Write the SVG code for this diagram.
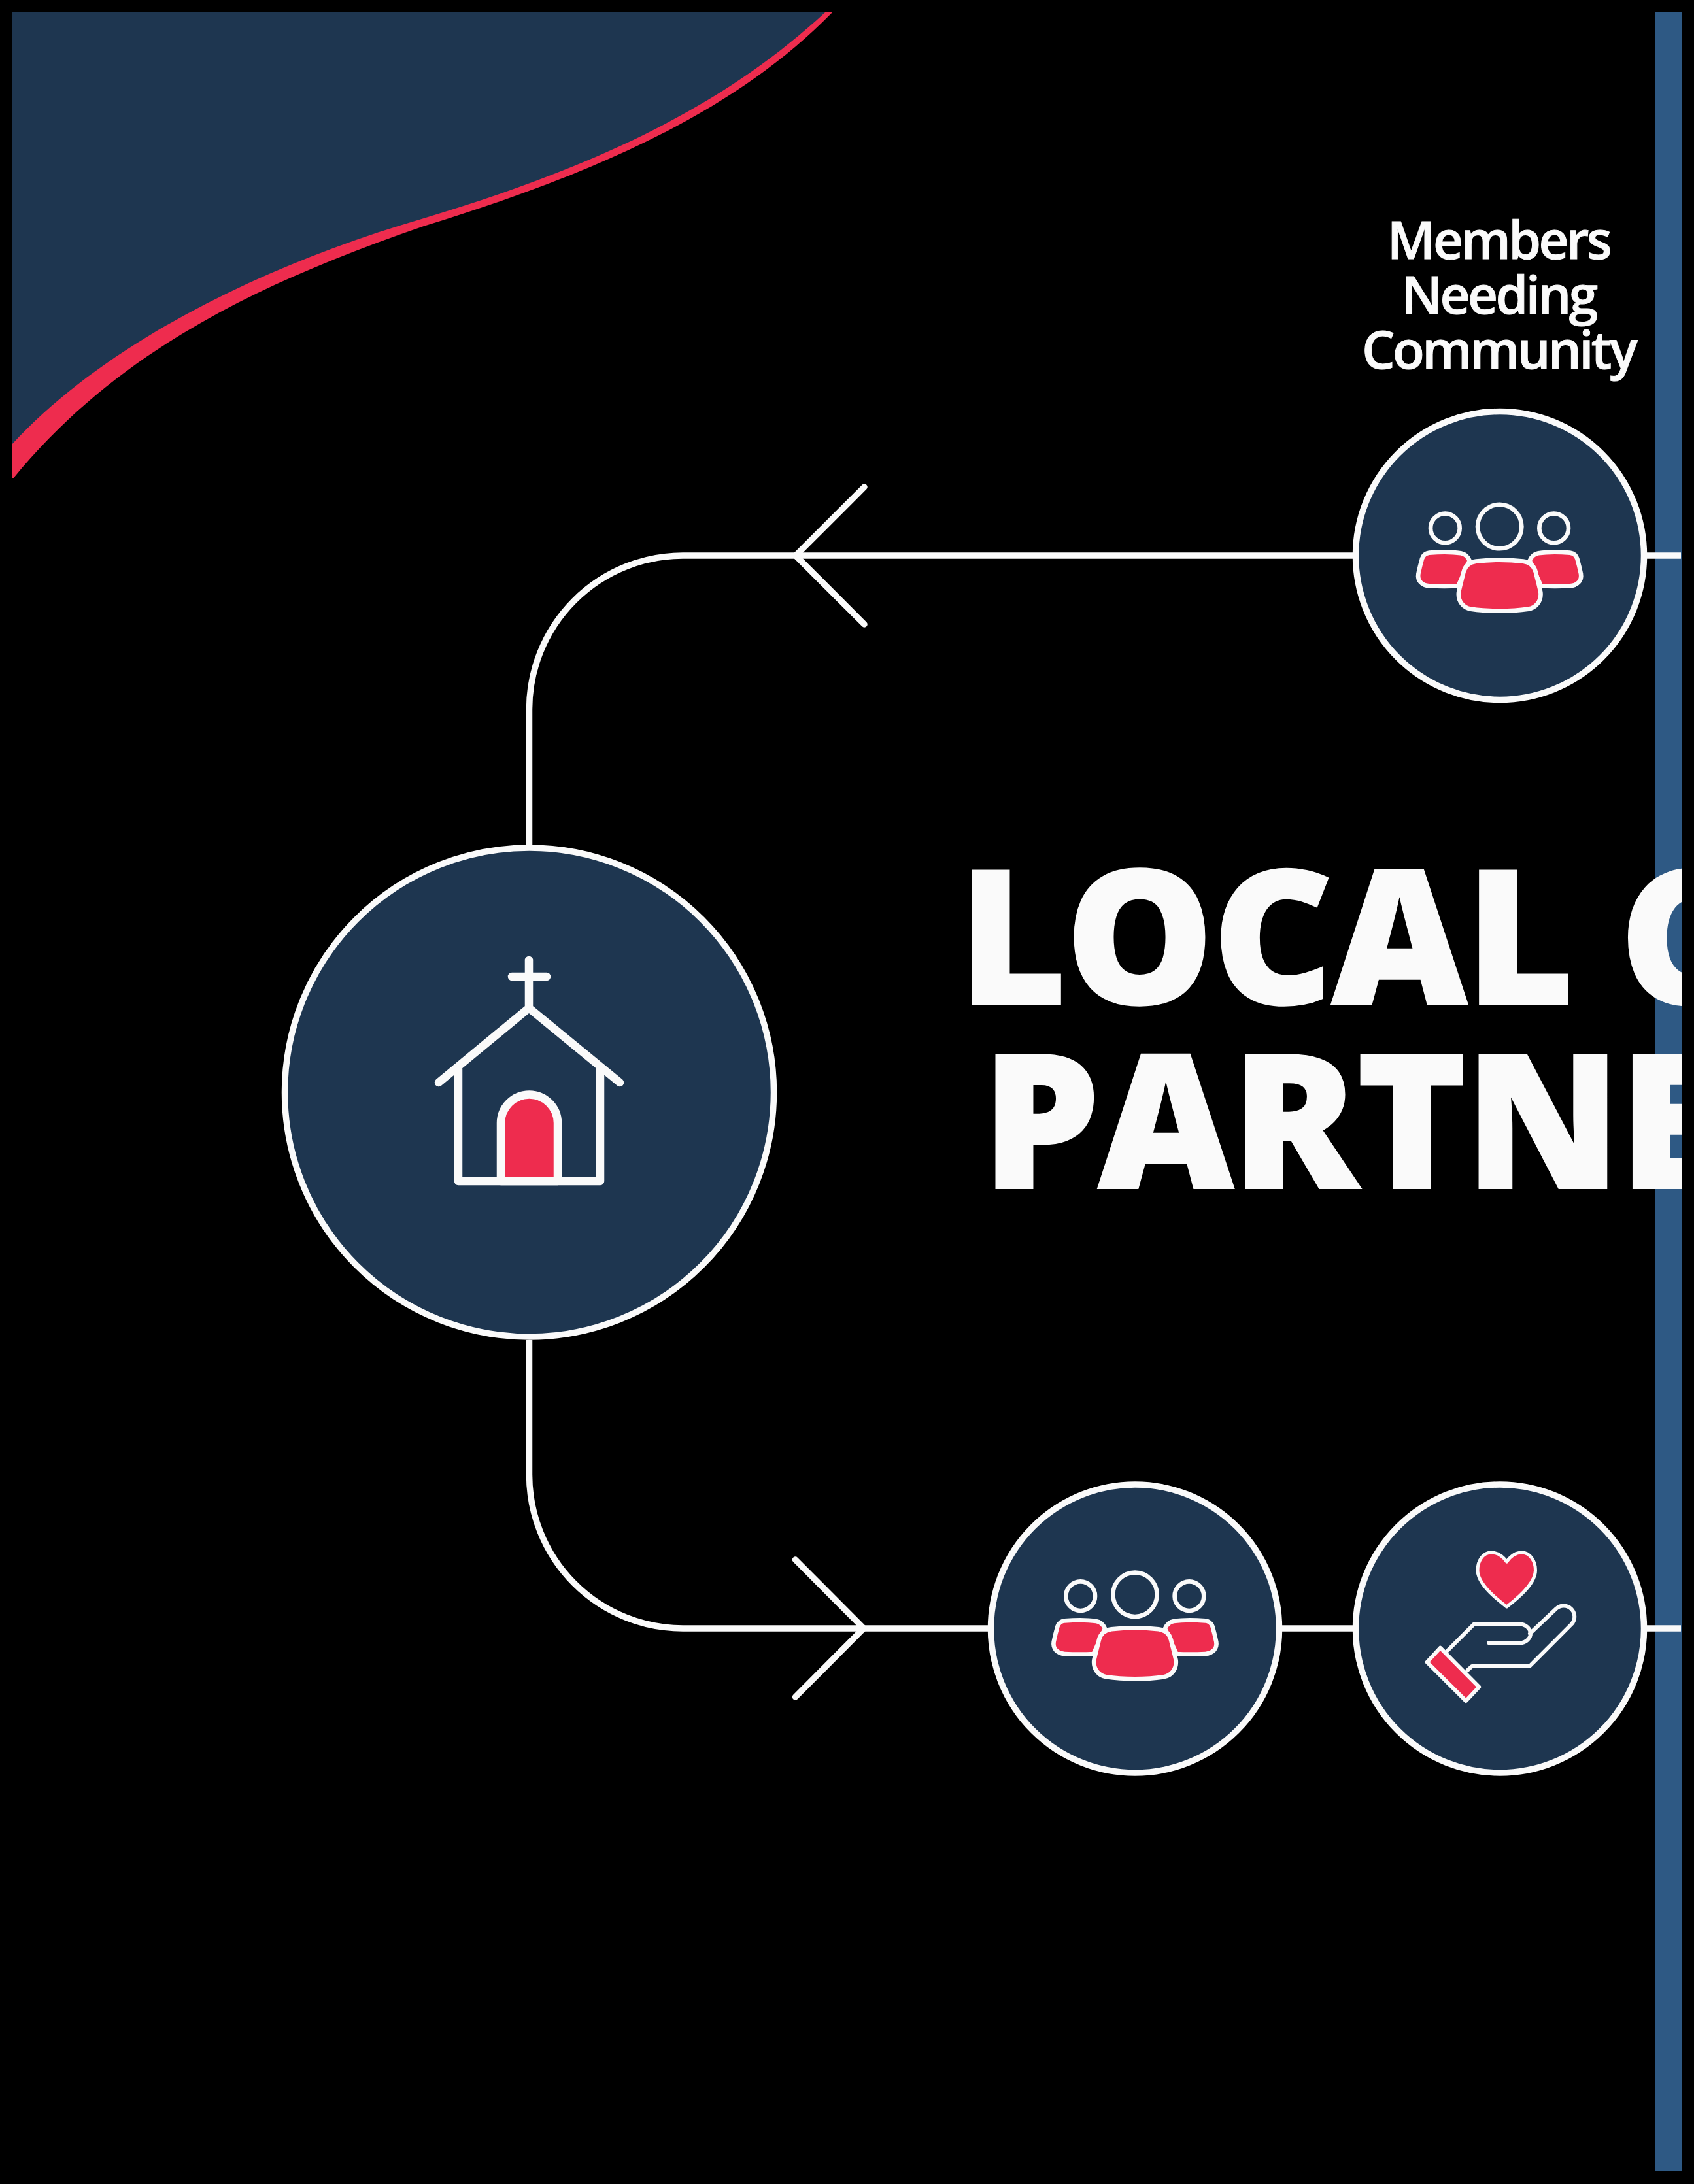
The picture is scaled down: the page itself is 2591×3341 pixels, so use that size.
<svg xmlns="http://www.w3.org/2000/svg" width="2591" height="3341" viewBox="0 0 2591 3341">
<style>
.ln{fill:none;stroke:#fafafa;stroke-width:9.5}
.disc{fill:#1e3650;stroke:#fafafa;stroke-width:9.5}
.ic{fill:none;stroke:#fafafa;stroke-linejoin:round;stroke-linecap:round}
.red{fill:#ee2c4e}
.lbl{font-family:"Open Sans","Liberation Sans",sans-serif;fill:#fafafa;stroke:#fafafa;stroke-width:1;text-anchor:middle;font-size:80px;font-weight:600;letter-spacing:-3.6px}
.ttl{font-family:"Open Sans","Liberation Sans",sans-serif;fill:#fafafa;stroke:#fafafa;stroke-width:3;font-size:285px;font-weight:800;letter-spacing:-2.3px}
</style>
<defs>
<clipPath id="page"><rect x="19" y="19" width="2553" height="3302"/></clipPath>
<g id="people">
<circle class="ic" cx="708" cy="568" r="101" stroke-width="20"/>
<circle class="ic" cx="458" cy="575" r="67" stroke-width="20"/>
<circle class="ic" cx="957" cy="575" r="67" stroke-width="20"/>
<path class="red ic" style="fill:#ee2c4e" stroke-width="20" d="M385,688 C440,684 490,684 530,690 C552,694 565,712 570,724 L518,840 C480,842 430,842 385,840 C350,838 330,815 335,785 C340,760 345,740 352,715 C358,698 370,690 385,688 Z"/>
<path class="red ic" style="fill:#ee2c4e" stroke-width="20" d="M1031,688 C976,684 926,684 886,690 C864,694 851,712 846,724 L898,840 C936,842 986,842 1031,840 C1066,838 1086,815 1081,785 C1076,760 1071,740 1064,715 C1058,698 1046,690 1031,688 Z"/>
<path class="red ic" style="fill:#ee2c4e" stroke-width="20" d="M600,727 C670,719 746,719 816,727 C845,731 865,745 873,775 C880,805 890,840 896,870 C900,910 875,940 840,946 C760,958 656,958 576,946 C541,940 516,910 520,870 C526,840 536,805 543,775 C551,745 571,731 600,727 Z"/>
</g>
</defs>
<rect id="background" width="2591" height="3341" fill="#000"/>
<rect id="side-bar" x="2531" y="19" width="41" height="3302" fill="#2e5984"/>
<g id="corner-swoosh">
<path class="red" d="M1111,19 L1273,19 C1130,165 928,260 648,346 C420,425 190,525 21,731 L19,731 L19,586 Z"/>
<path fill="#1e3650" d="M19,19 L1262,19 C1115,155 928,250 648,334 C420,400 170,516 19,679 Z"/>
</g>
<g id="connectors">
<path class="ln" d="M809.5,1292 V1085 A235,235 0 0 1 1044.5,850 H2073"/>
<path class="ln" stroke-linecap="round" d="M1322,745 L1217,850 L1322,955"/>
<path class="ln" d="M809.5,2050 V2256 A235,235 0 0 0 1044.5,2491 H1511"/>
<path class="ln" stroke-linecap="round" d="M1216.5,2386 L1321,2491 L1216.5,2596"/>
<path class="ln" d="M1961,2491 H2069"/>
<path class="ln" d="M2518,850 H2571"/>
<path class="ln" d="M2518,2491 H2571"/>
</g>
<g id="node-church">
<circle class="disc" cx="809.5" cy="1671" r="374"/>
<path class="ic" stroke-width="12.5" d="M809,1542 V1469 M783,1494 H836 M671,1656 L809,1542 L948,1656"/>
<path class="ic" stroke-width="12.5" d="M701,1636 V1807 H918 V1636"/>
<path class="red ic" style="fill:#ee2c4e" stroke-width="12.5" d="M766,1807 V1718 A43.5,43.5 0 0 1 853,1718 V1807 Z"/>
</g>
<g id="node-members">
<circle class="disc" cx="2294" cy="850" r="220.5"/>
<use href="#people" transform="translate(2057.7,616.3) scale(0.3333)"/>
</g>
<g id="node-people">
<circle class="disc" cx="1736" cy="2491.5" r="220.5"/>
<use href="#people" transform="translate(1500,2250) scale(0.3333)"/>
</g>
<g id="node-giving">
<circle class="disc" cx="2294" cy="2491.5" r="220.5"/>
<path class="red ic" style="fill:#ee2c4e" stroke-width="5" d="M2304.5,2389 C2298,2380 2290,2375 2281,2375 C2268,2375 2260,2388 2260,2402 C2260,2422 2285,2443 2304.5,2458 C2324,2443 2348.5,2422 2348.5,2402 C2348.5,2388 2340,2375 2327.5,2375 C2319,2375 2311,2380 2304.5,2389 Z"/>
<path class="ic" stroke-width="6" stroke-linecap="butt" d="M2214,2525 L2254.7,2484.3 H2322.4 C2334,2484.3 2341,2492 2341,2499 C2341,2506 2334,2513.3 2325,2513.3 H2277.4"/>
<path class="ic" stroke-width="6" stroke-linecap="butt" d="M2244.6,2555 L2251.3,2549 H2339.4 L2403.8,2484.5 A16.7,16.7 0 0 0 2380.2,2460.9 L2340,2499"/>
<path class="red ic" style="fill:#ee2c4e" stroke-width="6" d="M2202.9,2520.7 L2262.2,2580.7 L2242.2,2602 L2182.6,2542.7 Z"/>
</g>
<g id="label-members">
<text class="lbl" x="2292" y="396">Members</text>
<text class="lbl" x="2292" y="480">Needing</text>
<text class="lbl" x="2292" y="564">Community</text>
</g>
<g id="title" clip-path="url(#page)">
<text class="ttl" x="1466" y="1535.5">LOCAL C</text>
<text class="ttl" x="1502" y="1817.5">PARTNE</text>
</g>
</svg>
